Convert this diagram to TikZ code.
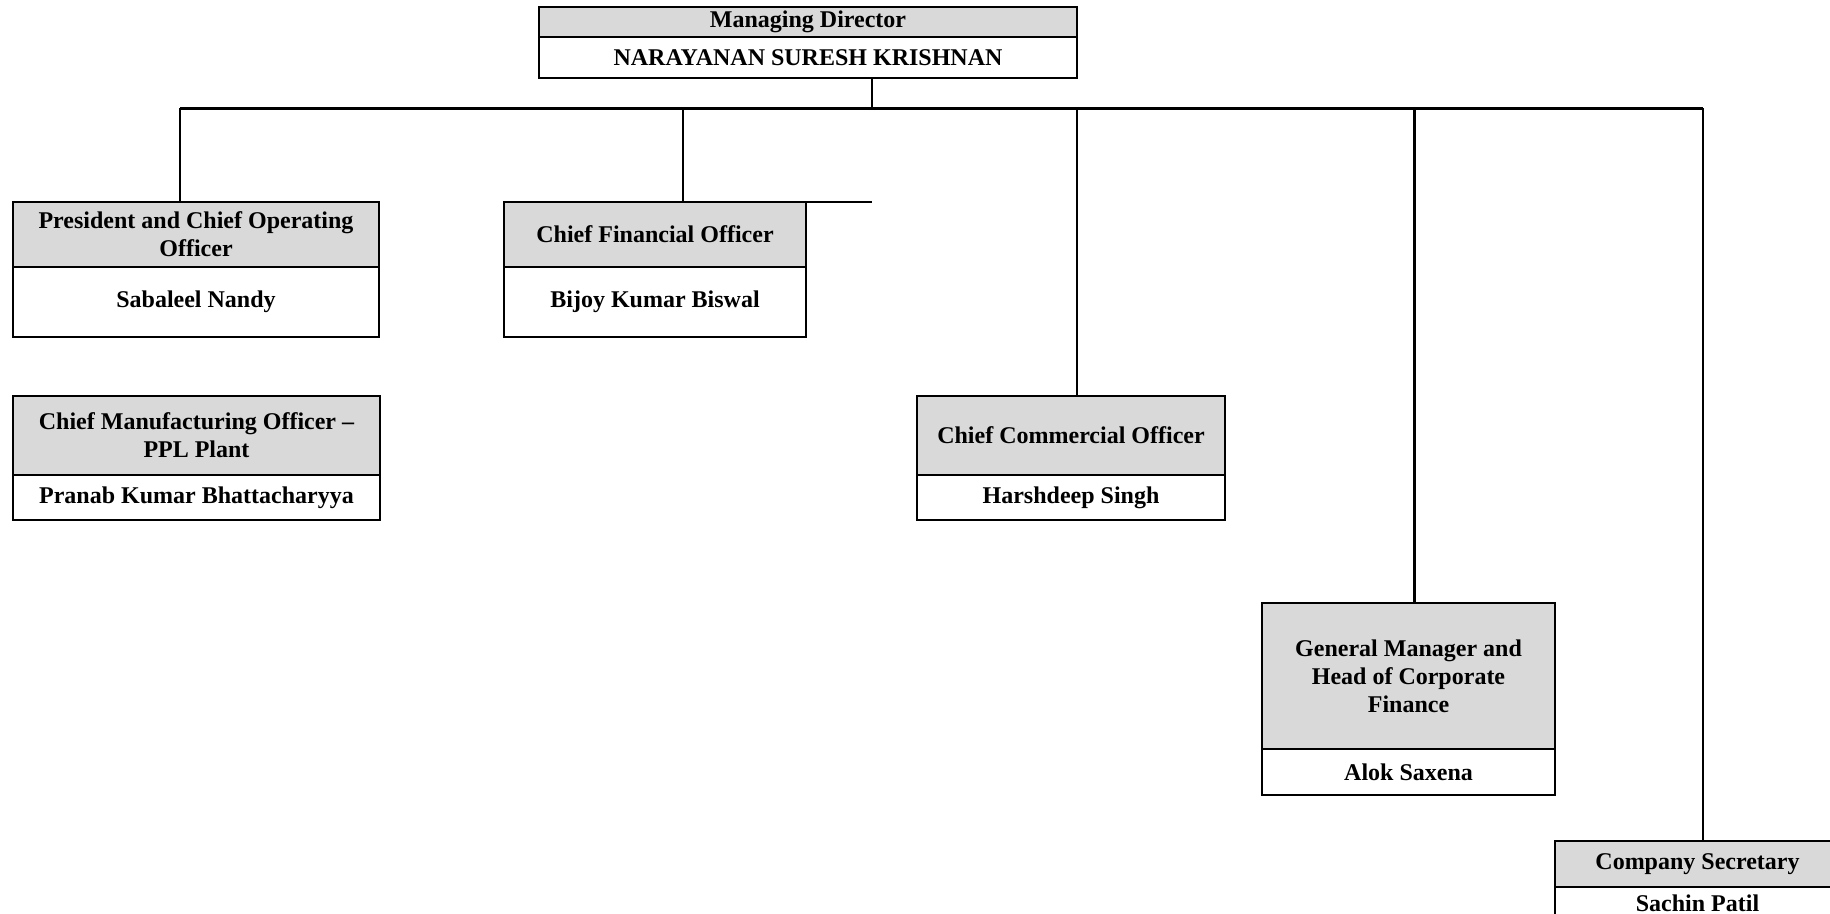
\documentclass[tikz,border=0pt]{standalone}
\usepackage{fontspec}
\setmainfont{Liberation Serif}
\usetikzlibrary{positioning}
\usepackage{xcolor}
\definecolor{boxgrey}{HTML}{D9D9D9}

\begin{document}
\begin{tikzpicture}[
    x=0.5pt, y=-0.5pt,
    font=\bfseries\fontsize{12}{14}\selectfont,
    % every post is a grey title cell on top of a white name cell
    cell/.style={draw, line width=1.1pt, align=center, inner sep=0pt, outer sep=0pt, anchor=north west},
    ttl/.style={cell, fill=boxgrey},
    nme/.style={cell, fill=white},
    link/.style={line width=1.2pt},
]
\useasboundingbox (0,0) rectangle (1830,914);
\clip (0,0) rectangle (1830,914);

%================= top : managing director =================%
\node[ttl, minimum width=269pt, minimum height=15pt]   (md-t) at (539,7) {Managing Director};
\node[nme, minimum width=269pt, minimum height=20.5pt] (md-n) at (md-t.south west) {NARAYANAN SURESH KRISHNAN};

%================= row 1 =================%
\node[ttl, minimum width=183pt, minimum height=32.5pt] (pres-t) at (13,202) {President and Chief Operating\\Officer};
\node[nme, minimum width=183pt, minimum height=35pt]   (pres-n) at (pres-t.south west) {Sabaleel Nandy};

\node[ttl, minimum width=151pt, minimum height=32.5pt] (cfo-t) at (504,202) {Chief Financial Officer};
\node[nme, minimum width=151pt, minimum height=35pt]   (cfo-n) at (cfo-t.south west) {Bijoy Kumar Biswal};

%================= row 2 =================%
\node[ttl, minimum width=183.5pt, minimum height=39.5pt] (cmo-t) at (13,396) {Chief Manufacturing Officer --\\PPL Plant};
\node[nme, minimum width=183.5pt, minimum height=22.5pt] (cmo-n) at (cmo-t.south west) {Pranab Kumar Bhattacharyya};

\node[ttl, minimum width=154pt, minimum height=39.5pt] (cco-t) at (917,396) {Chief Commercial Officer};
\node[nme, minimum width=154pt, minimum height=22.5pt] (cco-n) at (cco-t.south west) {Harshdeep Singh};

%================= lower right =================%
\node[ttl, minimum width=146.5pt, minimum height=73pt] (gm-t) at (1262,603) {General Manager and\\Head of Corporate\\Finance};
\node[nme, minimum width=146.5pt, minimum height=23pt] (gm-n) at (gm-t.south west) {Alok Saxena};

\node[ttl, minimum width=142.5pt, minimum height=23pt] (cs-t) at (1555,841) {Company Secretary};
\node[nme, minimum width=142.5pt, minimum height=16pt] (cs-n) at (cs-t.south west) {Sachin Patil};

%================= connectors =================%
\coordinate (bus-md)   at (872,108.5);
\coordinate (bus-pres) at (180,108.5);
\coordinate (bus-cfo)  at (683,108.5);
\coordinate (bus-cco)  at (1077,108.5);
\coordinate (bus-gm)   at (1414.5,108.5);
\coordinate (bus-cs)   at (1703,108.5);

\draw[link] (bus-md) -- (bus-md |- md-n.south);
\draw[link] (bus-pres) -- (bus-cs);
\draw[link] (bus-pres) -- (bus-pres |- pres-t.north);
\draw[link] (bus-cfo) -- (bus-cfo |- cfo-t.north);
\draw[link] (cfo-t.north east) -- (bus-md |- cfo-t.north);
\draw[link] (bus-cco) -- (bus-cco |- cco-t.north);
\draw[link] (bus-gm) -- (bus-gm |- gm-t.north);
\draw[link] (bus-cs) -- (bus-cs |- cs-t.north);

\end{tikzpicture}
\end{document}
